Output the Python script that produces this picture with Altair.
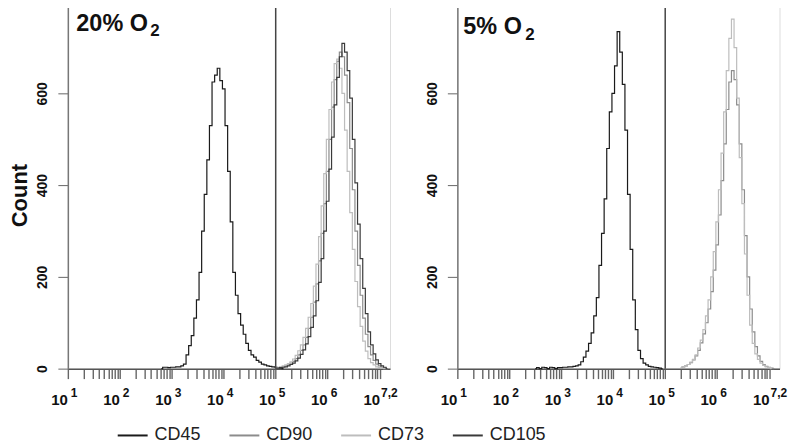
import altair as alt
import numpy as np
import pandas as pd

# ---------------- data ----------------
STEP = 0.05  # histogram bin width in decades (log10 units)
MARKERS = ["CD45", "CD90", "CD73", "CD105"]
COLORS = ["#1a1a1a", "#8c8c8c", "#bdbdbd", "#3a3a3a"]
PANELS = ["20% O", "5% O"]
GATE_LOG = 5.0  # vertical gate line at 10^5

# 20% O2 panel
cd45_20_start = 2.80
cd45_20 = [0, 3, 3, 2, 3, 3, 4, 4, 6, 10, 30, 50, 72, 110, 150, 210, 300, 380, 455, 530,
           625, 640, 655, 628, 610, 530, 430, 320, 210, 160, 120, 95, 75, 55, 40, 30, 25,
           18, 14, 10, 8, 6, 5, 4, 3, 2, 1, 0]
cd90_20_start = 5.00
cd90_20 = [1, 2, 3, 4, 6, 8, 12, 16, 22, 30, 40, 52, 68, 88, 112, 145, 185, 235, 295, 360,
           430, 500, 570, 630, 670, 690, 680, 640, 580, 480, 390, 300, 225, 160, 110, 75,
           48, 30, 18, 10, 6, 3, 1, 0]
cd73_20_start = 5.00
cd73_20 = [2, 3, 4, 6, 8, 11, 15, 21, 29, 39, 52, 68, 88, 112, 142, 180, 228, 288, 355, 425,
           500, 565, 625, 665, 675, 655, 600, 520, 430, 340, 260, 190, 135, 92, 60, 38, 22,
           13, 8, 4, 2, 1, 0, 0]
cd105_20_start = 5.00
cd105_20 = [1, 1, 2, 3, 4, 6, 9, 12, 17, 23, 31, 41, 54, 70, 90, 115, 148, 188, 240, 300,
            365, 435, 505, 575, 635, 680, 709, 690, 650, 590, 500, 405, 315, 240, 175, 120,
            80, 52, 32, 19, 11, 6, 3, 0]

# 5% O2 panel
cd45_5_start = 2.50
cd45_5 = [0, 2, 0, 3, 2, 0, 3, 2, 0, 2,
          2, 3, 3, 4, 4, 5, 6, 8, 15, 25, 38, 55, 78, 115, 155, 225, 295, 370, 480, 560,
          600, 660, 735, 690, 620, 520, 380, 260, 150, 85, 40, 22, 12, 8, 5, 4, 3, 2, 1, 0]
cd90_5_start = 5.30
cd90_5 = [2, 4, 6, 9, 13, 19, 28, 40, 56, 76, 100, 130, 168, 215, 270, 335, 410, 490, 565,
          625, 650, 630, 575, 490, 390, 290, 200, 130, 80, 48, 28, 16, 9, 5, 3, 1, 0]
cd73_5_start = 5.30
cd73_5 = [2, 4, 6, 9, 14, 20, 30, 45, 62, 85, 115, 150, 200, 255, 320, 390, 470, 560, 650,
          720, 762, 700, 590, 460, 360, 250, 160, 95, 55, 32, 20, 12, 7, 4, 2, 0]

# tick labels: 10^n
DECADES = [1, 2, 3, 4, 5, 6]
DECADE_SUPS = ["1", "2", "3", "4", "5", "6"]
LAST_DECADE = 7.2
LAST_SUP = "7,2"
Y_MAX = 796
Y_TICKS = [0, 200, 400, 600, Y_MAX]

series = [
    (PANELS[0], "CD45", cd45_20_start, cd45_20),
    (PANELS[0], "CD90", cd90_20_start, cd90_20),
    (PANELS[0], "CD73", cd73_20_start, cd73_20),
    (PANELS[0], "CD105", cd105_20_start, cd105_20),
    (PANELS[1], "CD45", cd45_5_start, cd45_5),
    (PANELS[1], "CD90", cd90_5_start, cd90_5),
    (PANELS[1], "CD73", cd73_5_start, cd73_5),
]
rows = []
for panel, marker, start, counts in series:
    for i, c in enumerate(counts):
        rows.append({"panel": panel, "marker": marker,
                     "logx": round(start + i * STEP, 3), "count": c})
df = pd.DataFrame(rows)

# ---------------- chart ----------------
FONT = "Liberation Sans"
W, H = 323, 366

tick_vals = sorted(set([float(n) for n in range(1, 8)] +
                       [round(n + np.log10(k), 4) for n in range(1, 7) for k in range(2, 10)]))
xscale = alt.Scale(domain=[1, 7.2], nice=False, zero=False)
xaxis = alt.Axis(values=tick_vals, labels=False, tickSize=10, title=None, grid=False,
                 domainColor="#555", tickColor="#666", tickWidth=1.4, domainWidth=1.5)
yscale = alt.Scale(domain=[0, Y_MAX], nice=False)

color = alt.Color("marker:N",
                  scale=alt.Scale(domain=MARKERS, range=COLORS),
                  legend=alt.Legend(orient="none", direction="horizontal", title=None,
                                    legendX=49, legendY=417,
                                    symbolType="stroke", symbolSize=900,
                                    symbolStrokeWidth=2, labelFont=FONT,
                                    labelFontSize=18, labelColor="#222",
                                    labelOffset=6, columnPadding=24))

dec_df = pd.DataFrame({"pos": DECADES, "sup": DECADE_SUPS, "base": ["10"] * len(DECADES)})
last_df = pd.DataFrame({"pos": [LAST_DECADE], "sup": [LAST_SUP], "base": ["10"]})
gate_df = pd.DataFrame({"g": [GATE_LOG]})


def panel(name, show_title, tx, ty, sx, sy):
    yaxis = alt.Axis(values=Y_TICKS, labelAngle=270, labelAlign="center",
                     labelBaseline="alphabetic", labelPadding=11, labelFontSize=14,
                     labelFont=FONT, labelFontWeight="bold", labelColor="#111",
                     labelExpr="datum.value > 700 ? '' : datum.label",
                     tickSize=10, grid=False, domainColor="#777", tickColor="#666",
                     domainWidth=1.5,
                     title="Count" if show_title else None,
                     titleFont=FONT, titleFontSize=22, titleFontWeight="bold",
                     titleColor="#111", titleX=-41, titleY=192, titleAngle=270,
                     titleAlign="center", titleBaseline="alphabetic")
    lines = alt.Chart(df[df.panel == name]).mark_line(
        interpolate="step", strokeWidth=1.2).encode(
        x=alt.X("logx:Q", scale=xscale, axis=xaxis),
        y=alt.Y("count:Q", scale=yscale, axis=yaxis),
        color=color,
        order=alt.Order("logx:Q"),
    )
    gate = alt.Chart(gate_df).mark_rule(color="#444", strokeWidth=1.5).encode(
        x=alt.X("g:Q", scale=xscale, axis=xaxis))
    base_lbl = alt.Chart(dec_df).mark_text(
        align="right", baseline="alphabetic", font=FONT, fontSize=15,
        fontWeight="bold", color="#111", dx=0).encode(
        x=alt.X("pos:Q", scale=xscale, axis=xaxis), y=alt.value(402), text="base:N")
    sup_lbl = alt.Chart(dec_df).mark_text(
        align="left", baseline="alphabetic", font=FONT, fontSize=12,
        fontWeight="bold", color="#111", dx=3).encode(
        x=alt.X("pos:Q", scale=xscale, axis=xaxis), y=alt.value(394), text="sup:N")
    last_base = alt.Chart(last_df).mark_text(
        align="right", baseline="alphabetic", font=FONT, fontSize=15,
        fontWeight="bold", color="#111", dx=-10).encode(
        x=alt.X("pos:Q", scale=xscale, axis=xaxis), y=alt.value(402), text="base:N")
    last_sup = alt.Chart(last_df).mark_text(
        align="left", baseline="alphabetic", font=FONT, fontSize=12,
        fontWeight="bold", color="#111", dx=-9).encode(
        x=alt.X("pos:Q", scale=xscale, axis=xaxis), y=alt.value(394), text="sup:N")
    ttl = alt.Chart(pd.DataFrame({"t": [name]})).mark_text(
        align="left", baseline="alphabetic", font=FONT, fontSize=23.5,
        fontWeight="bold", color="#111").encode(
        x=alt.value(tx), y=alt.value(ty), text="t:N")
    sub = alt.Chart(pd.DataFrame({"t": ["2"]})).mark_text(
        align="left", baseline="alphabetic", font=FONT, fontSize=17,
        fontWeight="bold", color="#111").encode(
        x=alt.value(sx), y=alt.value(sy), text="t:N")
    return alt.layer(lines, gate, base_lbl, sup_lbl, last_base, last_sup, ttl, sub).properties(
        width=W, height=H)


left = panel(PANELS[0], True, 8.5, 27, 82.5, 33)
right = panel(PANELS[1], False, 6, 31, 68, 37)

chart = alt.hconcat(left, right, spacing=67.5, bounds="flush").properties(
    padding={"left": 0, "top": -7, "right": 0, "bottom": 0}
).configure_view(stroke="#777", strokeWidth=1.5).configure(background="white")

chart.save("out.html", embed_options={"renderer": "svg", "actions": False})
